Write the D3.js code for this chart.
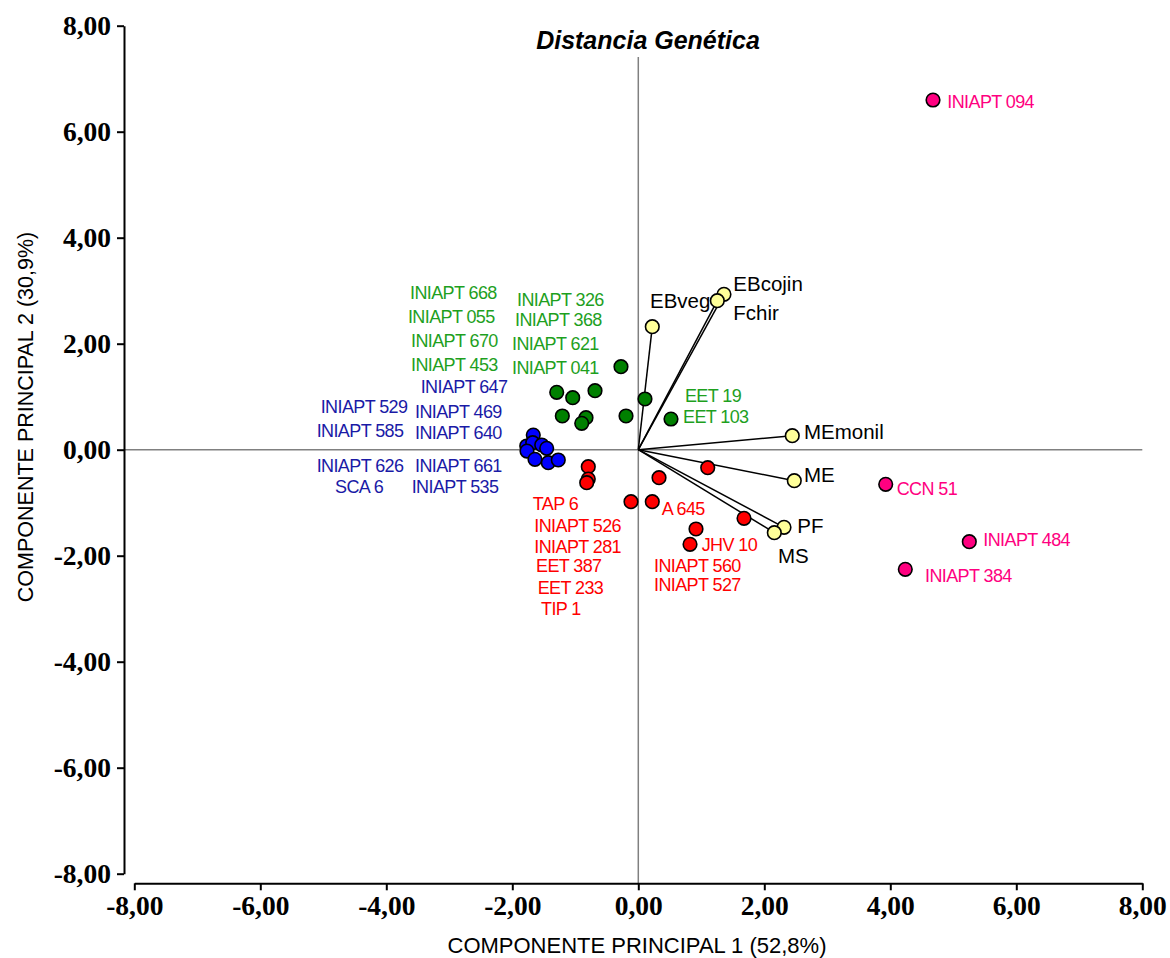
<!DOCTYPE html>
<html>
<head>
<meta charset="utf-8">
<script src="https://cdn.jsdelivr.net/npm/d3@7/dist/d3.min.js"></script>
<style>
body { margin: 0; background: #fff; }
svg text { font-family: Arial, "Liberation Sans", sans-serif; }
</style>
</head>
<body>
<div id="chart"></div>
<script>
// scores on PC1 / PC2, one array per group
const greenPts = [[-0.275, 1.566], [-1.295, 1.083], [-1.041, 0.981], [-0.687, 1.113], [0.106, 0.957],
                  [-1.206, 0.636], [-0.830, 0.604], [-0.898, 0.498], [-0.195, 0.636], [0.519, 0.579]];
const bluePts  = [[-1.667, 0.277], [-1.771, 0.070], [-1.676, 0.132], [-1.533, 0.089], [-1.454, 0.026],
                  [-1.767, -0.025], [-1.640, -0.181], [-1.429, -0.245], [-1.270, -0.194]];
const redPts   = [[-0.794, -0.321], [-0.794, -0.553], [-0.819, -0.623], [0.329, -0.528], [1.102, -0.340],
                  [-0.116, -0.981], [0.222, -0.981], [0.916, -1.496], [0.821, -1.785], [1.678, -1.294]];
const pinkPts  = [[4.678, 6.598], [3.927, -0.653], [5.254, -1.736], [4.238, -2.257]];

// variable loadings (vectors from the origin)
const varNames = ["EBveg", "EBcojin", "Fchir", "MEmonil", "ME", "PF", "MS"];
const varPts   = [[0.222, 2.321], [1.360, 2.932], [1.254, 2.811], [2.444, 0.264], [2.476, -0.585], [2.313, -1.464], [2.159, -1.566]];

// label text with anchor in data units (left edge, middle)
const greenLabels = [["INIAPT 668", -3.624, 2.957], ["INIAPT 055", -3.656, 2.509], ["INIAPT 670", -3.608, 2.057],
                     ["INIAPT 453", -3.608, 1.598], ["INIAPT 326", -1.925, 2.825], ["INIAPT 368", -1.957, 2.447],
                     ["INIAPT 621", -2.005, 1.994], ["INIAPT 041", -2.005, 1.555], ["EET 19", 0.741, 1.013],
                     ["EET 103", 0.710, 0.623]];
const blueLabels  = [["INIAPT 647", -3.454, 1.189], ["INIAPT 529", -5.041, 0.811], ["INIAPT 469", -3.544, 0.717],
                     ["INIAPT 585", -5.105, 0.358], ["INIAPT 640", -3.544, 0.328], ["INIAPT 626", -5.105, -0.302],
                     ["INIAPT 661", -3.544, -0.302], ["SCA 6", -4.814, -0.698], ["INIAPT 535", -3.597, -0.698]];
const redLabels   = [["TAP 6", -1.676, -1.011], ["INIAPT 526", -1.651, -1.440], ["INIAPT 281", -1.651, -1.830],
                     ["EET 387", -1.624, -2.189], ["EET 233", -1.597, -2.596], ["TIP 1", -1.544, -2.992],
                     ["A 645", 0.371, -1.106], ["JHV 10", 1.006, -1.798], ["INIAPT 560", 0.249, -2.189],
                     ["INIAPT 527", 0.249, -2.553]];
const pinkLabels  = [["INIAPT 094", 4.905, 6.566], ["CCN 51", 4.102, -0.728], ["INIAPT 484", 5.476, -1.704],
                     ["INIAPT 384", 4.551, -2.383]];
const varLabels   = [["EBcojin", 1.508, 3.126], ["EBveg", 0.186, 2.811], ["Fchir", 1.508, 2.574], ["MEmonil", 2.630, 0.328],
                     ["ME", 2.630, -0.477], ["PF", 2.524, -1.434], ["MS", 2.217, -2.006]];

const ticks = [-8, -6, -4, -2, 0, 2, 4, 6, 8];

const W = 1170, H = 958;
let svg = d3.select("#chart").append("svg").attr("width", W).attr("height", H);

let x = d3.scaleLinear().domain([-8, 8]).range([134.3, 1142.3]);
let y = d3.scaleLinear().domain([-8, 8]).range([873.7, 25.7]);
let fmt = v => v.toFixed(2).replace(".", ",");

// zero reference lines
svg.append("line")
    .attr("x1", 124).attr("x2", x(8)).attr("y1", y(0)).attr("y2", y(0))
    .attr("stroke", "#808080").attr("stroke-width", 1.5);
svg.append("line")
    .attr("x1", x(0)).attr("x2", x(0)).attr("y1", 57).attr("y2", 883)
    .attr("stroke", "#808080").attr("stroke-width", 1.5);

// axes
let yAxis = svg.append("g").attr("transform", "translate(124,0)")
    .call(d3.axisLeft(y).tickValues(ticks).tickFormat(fmt).tickSize(7).tickSizeOuter(0).tickPadding(6));
let xAxis = svg.append("g").attr("transform", "translate(0,883.3)")
    .call(d3.axisBottom(x).tickValues(ticks).tickFormat(fmt).tickSize(7).tickSizeOuter(0).tickPadding(5));
[xAxis, yAxis].forEach(a => {
    a.select(".domain").attr("stroke", "#000").attr("stroke-width", 2);
    a.selectAll(".tick line").attr("stroke", "#000").attr("stroke-width", 2);
    a.selectAll(".tick text")
        .style("font-family", "'Liberation Serif', 'Times New Roman', serif")
        .style("font-weight", "bold").style("font-size", "27.5px").attr("fill", "#000");
});

// loading vectors
svg.append("g").selectAll("line").data(varPts).enter().append("line")
    .attr("x1", x(0)).attr("y1", y(0))
    .attr("x2", d => x(d[0])).attr("y2", d => y(d[1]))
    .attr("stroke", "#000").attr("stroke-width", 1.5);

function drawPoints(pts, fill) {
    svg.append("g").selectAll("circle").data(pts).enter().append("circle")
        .attr("cx", d => x(d[0])).attr("cy", d => y(d[1])).attr("r", 6.8)
        .attr("fill", fill).attr("stroke", "#000").attr("stroke-width", 1.6);
}
function drawLabels(labels, color, size, spacing) {
    svg.append("g").selectAll("text").data(labels).enter().append("text")
        .attr("x", d => x(d[1])).attr("y", d => y(d[2]))
        .attr("dy", "0.35em")
        .attr("font-size", size).attr("letter-spacing", spacing)
        .attr("fill", color).text(d => d[0]);
}

drawPoints(varPts, "#ffff99");
drawPoints(greenPts, "#008000");
drawPoints(bluePts, "#0000ff");
drawPoints(redPts, "#ff0000");
drawPoints(pinkPts, "#ff0080");

drawLabels(greenLabels, "#1ea01e", 18, -0.6);
drawLabels(blueLabels, "#1a1aa6", 18, -0.6);
drawLabels(redLabels, "#ff0000", 18, -0.6);
drawLabels(pinkLabels, "#ff0080", 18, -0.6);
drawLabels(varLabels, "#000000", 20.5, 0);

// titles
svg.append("text").attr("x", 648).attr("y", 49).attr("text-anchor", "middle")
    .attr("font-size", 25).attr("font-weight", "bold").attr("font-style", "italic")
    .text("Distancia Genética");
svg.append("text").attr("x", 637).attr("y", 953).attr("text-anchor", "middle")
    .attr("font-size", 22).text("COMPONENTE PRINCIPAL 1 (52,8%)");
svg.append("text").attr("transform", "translate(33,417) rotate(-90)").attr("text-anchor", "middle")
    .attr("font-size", 21.5).text("COMPONENTE PRINCIPAL 2 (30,9%)");
</script>
</body>
</html>
